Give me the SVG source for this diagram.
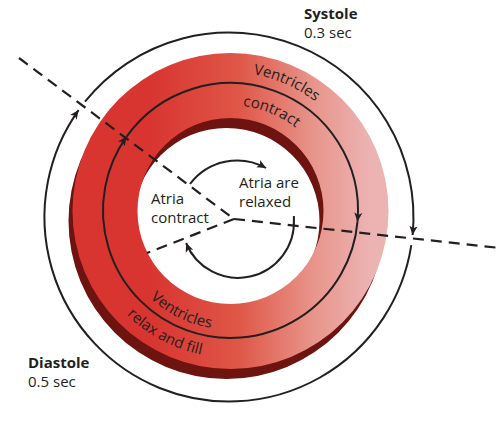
<svg xmlns="http://www.w3.org/2000/svg" width="504" height="432" viewBox="0 0 504 432">
  <defs>
    <linearGradient id="redGrad" gradientUnits="userSpaceOnUse" x1="150" y1="0" x2="370" y2="0">
      <stop offset="0" stop-color="#d83530"/>
      <stop offset="0.4" stop-color="#df5647"/>
      <stop offset="0.75" stop-color="#e8968c"/>
      <stop offset="1" stop-color="#ecb3b3"/>
    </linearGradient>
    <marker id="arrow" viewBox="0 0 10 10" refX="10" refY="5" markerWidth="9" markerHeight="9" markerUnits="userSpaceOnUse" orient="auto">
      <path d="M0,0.5 L10,5 L0,9.5 L2.5,5 z" fill="#231f20"/>
    </marker>
    <path id="pTopOuter" d="M191.8,78.1 A138,138 0 0 1 354.2,149.2"/>
    <path id="pTopInner" d="M198.9,110.4 A104,104 0 0 1 323.6,162.0"/>
    <path id="pBotInner" d="M121.8,258.9 A119,119 0 0 0 259.3,326.0"/>
    <path id="pBotOuter" d="M94.0,265.1 A147,147 0 0 0 260.6,354.4"/>
  </defs>
  <style>
    .line { fill: none; stroke: #231f20; stroke-width: 2; }
    .dash { fill: none; stroke: #231f20; stroke-width: 2.2; stroke-dasharray: 11 7; }
    .lbl { font-family: "Open Sans", "Liberation Sans", sans-serif; font-size: 15px; fill: #231f20; }
    .bold { font-weight: bold; }
    .ring { font-family: "Open Sans", "Liberation Sans", sans-serif; font-size: 15px; fill: #231f20; }
  </style>

  <g id="ring">
    <path fill="#6e1410" fill-rule="evenodd" d="M68.5,221 a158,158 0 1 0 316,0 a158,158 0 1 0 -316,0 Z M133.5,221 a93,93 0 1 0 186,0 a93,93 0 1 0 -186,0 Z"/>
    <path fill="url(#redGrad)" fill-rule="evenodd" d="M72.5,211 a158,158 0 1 0 316,0 a158,158 0 1 0 -316,0 Z M137.5,211 a93,93 0 1 0 186,0 a93,93 0 1 0 -186,0 Z"/>
  </g>

  <g id="connectors">
    <path class="dash" d="M19,58 L234,219"/>
    <path class="dash" d="M234,219 L500,248"/>
    <path class="dash" d="M234,219 L147,253"/>
    <path class="line" d="M85.0,101.7 A184.5,184.5 0 0 1 412.6,235.0" marker-end="url(#arrow)"/>
    <path class="line" d="M411.3,245.2 A184.5,184.5 0 1 1 78.6,110.1" marker-end="url(#arrow)"/>
    <path class="line" d="M357.5,221.6 A127.5,127.5 0 1 1 126.6,136.6" marker-end="url(#arrow)"/>
    <path class="line" d="M126.6,136.6 A127.5,127.5 0 0 1 357.5,221.6" marker-end="url(#arrow)"/>
    <path class="line" d="M190,184 A59,59 0 0 1 266,168" marker-end="url(#arrow)"/>
    <path class="line" d="M293.9,216 L293.9,219.1 A56,56 0 0 1 186.1,243.0" marker-end="url(#arrow)"/>
  </g>

  <g id="systole">
    <text class="lbl bold" x="304" y="19">Systole</text>
    <text class="lbl" x="304" y="38">0.3 sec</text>
  </g>
  <g id="diastole">
    <text class="lbl bold" x="28" y="368">Diastole</text>
    <text class="lbl" x="28" y="387">0.5 sec</text>
  </g>
  <g id="atria-relaxed">
    <text class="lbl" x="239" y="188">Atria are</text>
    <text class="lbl" x="239" y="207">relaxed</text>
  </g>
  <g id="atria-contract">
    <text class="lbl" x="151" y="204">Atria</text>
    <text class="lbl" x="151" y="223">contract</text>
  </g>
  <g id="ventricles-contract">
    <text class="ring"><textPath href="#pTopOuter" startOffset="50%" text-anchor="middle">Ventricles</textPath></text>
    <text class="ring"><textPath href="#pTopInner" startOffset="50%" text-anchor="middle">contract</textPath></text>
  </g>
  <g id="ventricles-relax">
    <text class="ring"><textPath href="#pBotInner" startOffset="50%" text-anchor="middle">Ventricles</textPath></text>
    <text class="ring"><textPath href="#pBotOuter" startOffset="50%" text-anchor="middle">relax and fill</textPath></text>
  </g>
</svg>
